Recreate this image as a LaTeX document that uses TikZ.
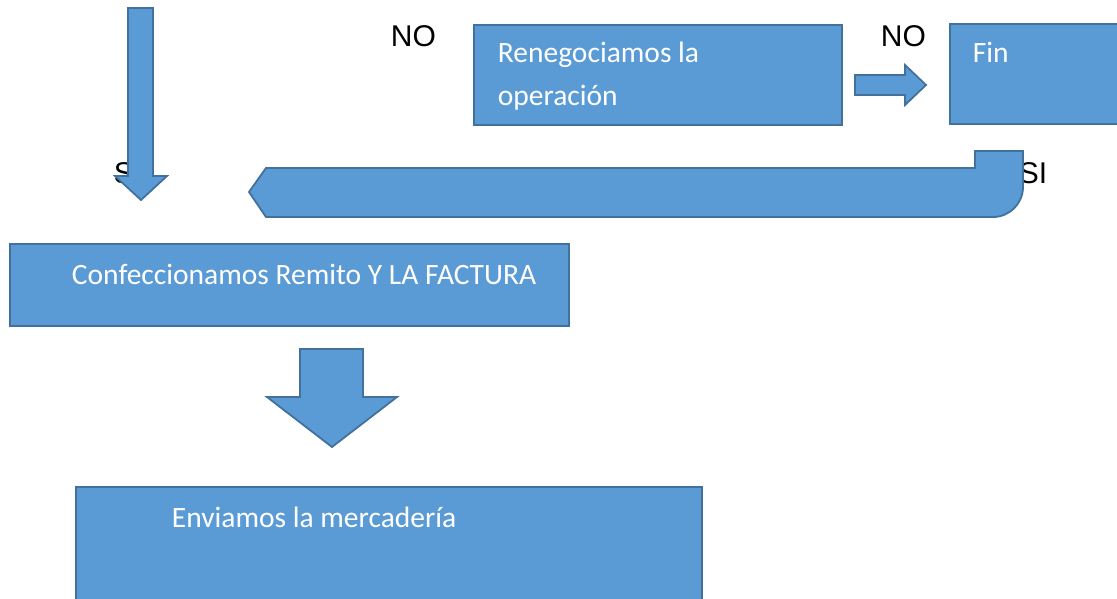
\documentclass[tikz,border=0pt]{standalone}
\usepackage{fontspec}
\setmainfont{Carlito}
\newfontfamily\labelfont{Liberation Sans}
\usetikzlibrary{shapes, arrows}

\definecolor{boxfill}{HTML}{5B9BD5}
\definecolor{boxline}{HTML}{41719C}

\begin{document}
\begin{tikzpicture}[x=1pt,y=-1pt,line width=1.8pt,
                     main box/.style={rectangle,draw=boxline,fill=boxfill,inner sep=0pt},
                     block arrow/.style={draw=boxline,fill=boxfill,line join=miter},
                     box text/.style={anchor=base west,inner sep=0pt,text=white,
                                      font=\fontsize{29.5}{43}\selectfont,align=left},
                     label text/.style={anchor=base west,inner sep=0pt,
                                        font=\labelfont\fontsize{30}{36}\selectfont}]

  \useasboundingbox (0,0) rectangle (1117,599);

  % boxes
  \node[main box, minimum width=368pt, minimum height=100pt] (1) at (658,75) {};
  \node[main box, minimum width=190pt, minimum height=100pt] (2) at (1045,74) {};
  \node[main box, minimum width=559pt, minimum height=82pt] (3) at (289.5,285) {};
  \node[main box, minimum width=626pt, minimum height=133pt] (4) at (389,553.5) {};

  \node[box text] (t1) at (497,63) {Renegociamos la};
  \node[box text] (t1b) at (497,106) {operación};
  \node[box text] (t2) at (972,63) {Fin};
  \node[box text] (t3) at (71,284) {Confeccionamos Remito Y LA FACTURA};
  \node[box text] (t4) at (171,527) {Enviamos la mercadería};

  % labels
  \node[label text] (no1) at (390,47) {NO};
  \node[label text] (no2) at (880,47) {NO};
  \node[label text] (si1) at (113,184) {SI};
  \node[label text] (si2) at (1018,184) {SI};

  % arrows
  \draw[block arrow] (128,8) -- (153,8) -- (153,176) -- (167,176) -- (141,200)
     -- (115,176) -- (128,176) -- cycle;
  \draw[block arrow] (855,75) -- (905,75) -- (905,65) -- (926,85) -- (905,105)
     -- (905,95) -- (855,95) -- cycle;
  \draw[block arrow] (266,168) -- (975,168) -- (975,151) -- (1023,151) -- (1023,187)
     arc (0:90:30) -- (266,217) -- (249,192) -- cycle;
  \draw[block arrow] (300,349) -- (363,349) -- (363,397) -- (397,397) -- (332,447)
     -- (267,397) -- (300,397) -- cycle;
\end{tikzpicture}
\end{document}
